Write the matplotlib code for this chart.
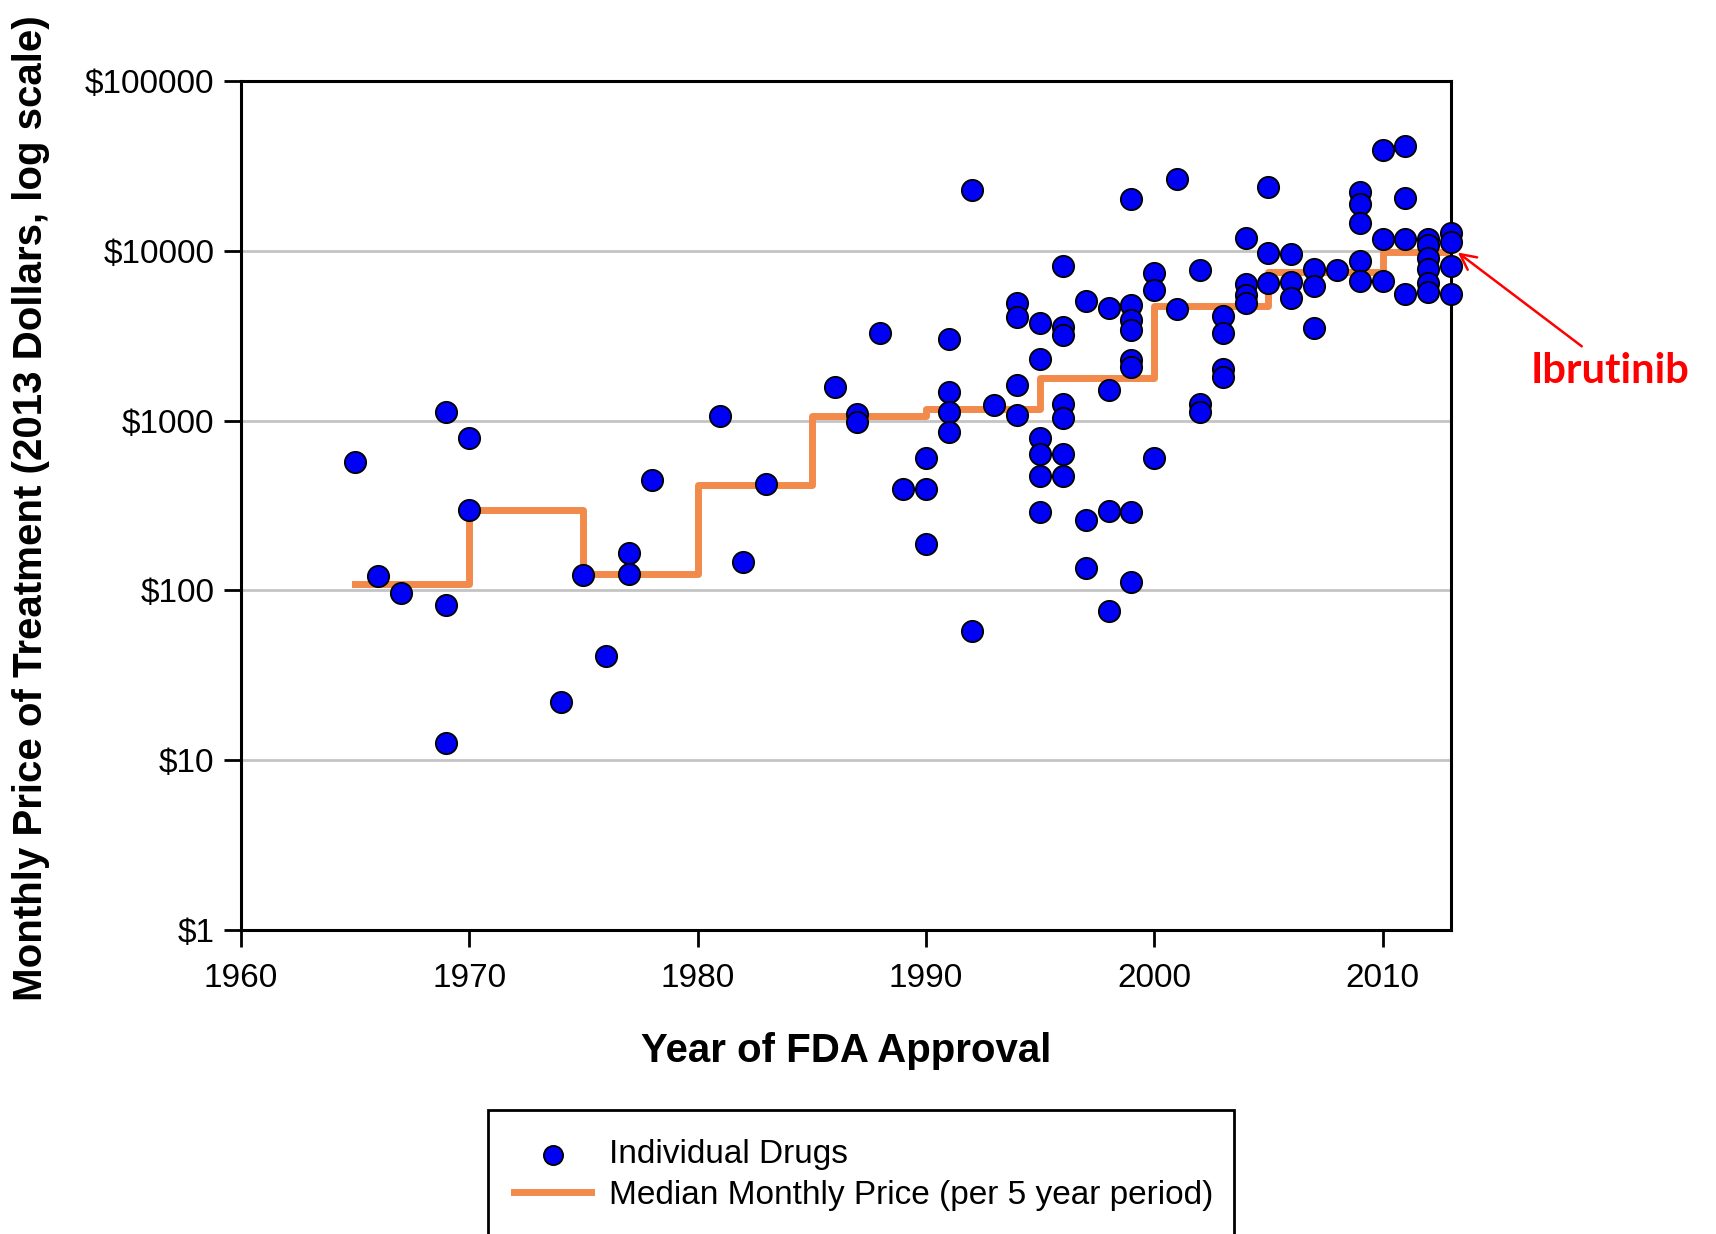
import matplotlib
matplotlib.use("Agg")
import matplotlib.pyplot as plt
import matplotlib.ticker as ticker
from matplotlib.patches import Rectangle

plt.rcParams["font.family"] = ["Liberation Sans", "DejaVu Sans"]

# individual drugs: year of FDA approval, monthly price (2013 dollars)
anios = [1965, 1966, 1967, 1969, 1969, 1969, 1970, 1970, 1974, 1975,
         1976, 1977, 1977, 1978, 1981, 1982, 1983, 1986, 1987, 1987,
         1988, 1989, 1990, 1990, 1990, 1991, 1991, 1991, 1991, 1992,
         1992, 1993, 1994, 1994, 1994, 1994, 1995, 1995, 1995, 1995,
         1995, 1995, 1996, 1996, 1996, 1996, 1996, 1996, 1996, 1997,
         1997, 1997, 1998, 1998, 1998, 1998, 1999, 1999, 1999, 1999,
         1999, 1999, 1999, 1999, 2000, 2000, 2000, 2001, 2001, 2002,
         2002, 2002, 2003, 2003, 2003, 2003, 2004, 2004, 2004, 2004,
         2005, 2005, 2005, 2006, 2006, 2006, 2007, 2007, 2007, 2008,
         2009, 2009, 2009, 2009, 2009, 2010, 2010, 2010, 2011, 2011,
         2011, 2011, 2012, 2012, 2012, 2012, 2012, 2012, 2013, 2013,
         2013, 2013]
precios = [570, 122, 96, 1120, 82, 12.7, 795, 297, 22, 124,
           41, 165, 125, 444, 1070, 147, 425, 1570, 1100, 975,
           3300, 395, 600, 395, 188, 3040, 1475, 1120, 855, 22800,
           58, 1230, 4900, 4100, 1620, 1080, 3750, 2300, 795, 632,
           470, 290, 8100, 3550, 3200, 1260, 1030, 632, 470, 5070,
           261, 136, 4600, 1515, 295, 76, 20300, 4800, 3900, 3400,
           2260, 2080, 290, 112, 7400, 5900, 606, 26600, 4520, 7750,
           1260, 1120, 4120, 3300, 2010, 1810, 11900, 6350, 5500, 4900,
           23700, 9700, 6500, 9550, 6550, 5300, 7800, 6200, 3500, 7670,
           22300, 18900, 14500, 8700, 6600, 39000, 11800, 6650, 41300, 20500,
           11800, 5550, 11700, 10800, 9100, 7800, 6500, 5700, 12800, 11200,
           8100, 5600]

# median monthly price per 5 year period
periodos = [1965, 1970, 1975, 1980, 1985, 1990, 1995, 2000, 2005, 2010, 2013]
medianas = [109, 298, 125, 415, 1070, 1165, 1775, 4740, 7500, 9860]

anios_ticks = [1960, 1970, 1980, 1990, 2000, 2010]
precio_ticks = [1, 10, 100, 1000, 10000, 100000]
precio_labels = ["$1", "$10", "$100", "$1000", "$10000", "$100000"]

W, H = 1716, 1234
fig = plt.figure(figsize=(W / 100, H / 100), dpi=100)
ax = fig.add_axes([241 / W, 1 - 930 / H, 1210 / W, 849 / H])

ax.step(periodos, medianas + [medianas[-1]], where="post", color="#F28A4B",
        linewidth=5, zorder=2, label="Median Monthly Price (per 5 year period)")
ax.scatter(anios, precios, s=235, color="#0000F5", edgecolors="black",
           linewidths=1.3, zorder=3, clip_on=False, label="Individual Drugs")

ax.set_yscale("log")
ax.set_xlim(1960, 2013)
ax.set_ylim(1, 100000)
ax.set_xticks(anios_ticks)
ax.set_yticks(precio_ticks)
ax.yaxis.set_major_formatter(ticker.FixedFormatter(precio_labels))
ax.yaxis.set_minor_locator(ticker.NullLocator())
ax.tick_params(axis="both", direction="out", length=12, width=2, labelsize=24)
ax.tick_params(axis="x", pad=12)
ax.tick_params(axis="y", pad=7)
ax.yaxis.grid(True, color="#C4C4C4", linewidth=2)
ax.set_axisbelow(True)
for sp in ax.spines.values():
    sp.set_linewidth(2.2)

ax.set_xlabel("Year of FDA Approval", fontsize=29, fontweight="bold", va="center")
ax.xaxis.set_label_coords(0.5, -0.1425)
ax.set_ylabel("Monthly Price of Treatment (2013 Dollars, log scale)", fontsize=29,
              fontweight="bold", va="center")
ax.yaxis.set_label_coords(-0.1736, 0.497)

# Ibrutinib callout
ax.annotate("", xy=(2013.2, 10000), xytext=(1584 / W, 1 - 348 / H),
            textcoords="figure fraction", annotation_clip=False,
            arrowprops=dict(arrowstyle="->", color="red", lw=1.8, mutation_scale=28))
fig.text(1610 / W, 1 - 371 / H, "Ibrutinib", color="red", fontsize=30,
         fontweight="bold", ha="center", va="center", family=["Lato", "DejaVu Sans"])

# legend box runs past the bottom edge of the picture
fig.patches.append(Rectangle((488 / W, -0.05), (1234 - 488) / W, 0.05 + 1 - 1110 / H,
                             transform=fig.transFigure, fill=False,
                             edgecolor="black", linewidth=2))
handles, labels = ax.get_legend_handles_labels()
leg = fig.legend(handles[::-1], labels[::-1], loc="upper left",
                 bbox_to_anchor=(491 / W, 1 - 1116 / H), borderaxespad=0,
                 fontsize=24, frameon=False, borderpad=0.7,
                 handlelength=2.3, handletextpad=0.55, labelspacing=0.28,
                 markerscale=0.9)

fig.savefig("out.png", dpi=100)
